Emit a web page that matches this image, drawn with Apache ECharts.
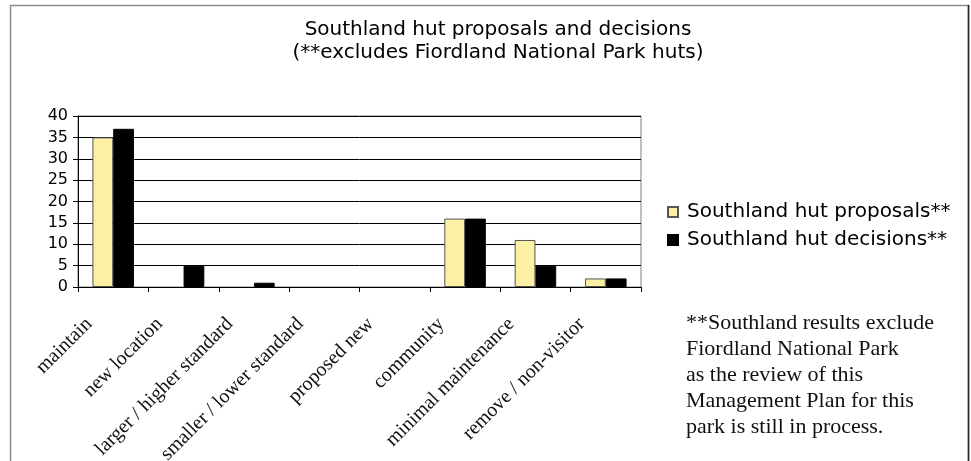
<!DOCTYPE html>
<html>
<head>
<meta charset="utf-8">
<script src="https://cdn.jsdelivr.net/npm/echarts@6/dist/echarts.min.js"></script>
<style>
  html, body { margin: 0; padding: 0; background: #ffffff; }
  #chart { width: 971px; height: 461px; }
</style>
</head>
<body>
<div id="chart"></div>
<script>
// Hut categories along the x axis
const categories = [
  'maintain',
  'new location',
  'larger / higher standard',
  'smaller / lower standard',
  'proposed new',
  'community',
  'minimal maintenance',
  'remove / non-visitor'
];

// Number of huts per category
const proposals = [35, 0, 0, 0, 0, 16, 11, 2];
const decisions = [37, 5, 1, 0, 0, 16, 5, 2];

const seriesNames = ['Southland hut proposals**', 'Southland hut decisions**'];

const titleLines = [
  'Southland hut proposals and decisions',
  '(**excludes Fiordland National Park huts)'
];

const noteLines = [
  '**Southland results exclude',
  'Fiordland National Park',
  'as the review of this',
  'Management Plan for this',
  'park is still in process.'
];

const sansFont = '"DejaVu Sans", Verdana, sans-serif';
const serifFont = '"Liberation Serif", "Times New Roman", serif';

// Empty categories get no bar at all (not even a flat outline)
const asBars = values => values.map(v => (v === 0 ? null : v));

const chart = echarts.init(document.getElementById('chart'), null, { renderer: 'canvas' });

chart.setOption({
  animation: false,
  backgroundColor: '#ffffff',
  title: {
    text: titleLines.join('\n'),
    left: 493,
    top: 13,
    textAlign: 'center',
    textStyle: {
      fontFamily: sansFont,
      fontSize: 20,
      fontWeight: 'normal',
      color: '#000000',
      lineHeight: 23
    }
  },
  legend: {
    orient: 'vertical',
    left: 662,
    top: 197,
    itemWidth: 10,
    itemHeight: 10,
    itemGap: 8,
    icon: 'rect',
    textStyle: { fontFamily: sansFont, fontSize: 20, color: '#000000', padding: [0, 0, 0, 4] },
    data: seriesNames
  },
  grid: {
    left: 78,
    right: 330,
    top: 116,
    bottom: 174,
    outerBoundsMode: 'none',
    containLabel: false,
    show: true,
    borderColor: '#808080',
    borderWidth: 1,
    backgroundColor: '#ffffff'
  },
  xAxis: {
    type: 'category',
    data: categories,
    axisLine: { lineStyle: { color: '#000000', width: 1 } },
    axisTick: { show: true, length: 5, lineStyle: { color: '#000000' } },
    axisLabel: {
      interval: 0,
      rotate: 45,
      margin: 10,
      padding: [0, 34, 0, 0],
      fontFamily: serifFont,
      fontSize: 20,
      color: '#111111'
    }
  },
  yAxis: {
    type: 'value',
    min: 0,
    max: 40,
    interval: 5,
    axisLine: { show: true, lineStyle: { color: '#000000', width: 1 } },
    axisTick: { show: true, length: 5, lineStyle: { color: '#000000' } },
    axisLabel: { fontFamily: sansFont, fontSize: 16, color: '#000000', margin: 10 },
    splitLine: { show: true, lineStyle: { color: '#000000', width: 1 } }
  },
  series: [
    {
      name: seriesNames[0],
      type: 'bar',
      data: asBars(proposals),
      barGap: '0%',
      barCategoryGap: '41%',
      itemStyle: { color: '#fcf0a4', borderColor: '#555555', borderWidth: 1 }
    },
    {
      name: seriesNames[1],
      type: 'bar',
      data: asBars(decisions),
      itemStyle: { color: '#000000', borderColor: '#000000', borderWidth: 1 }
    }
  ],
  graphic: [
    {
      type: 'rect',
      silent: true,
      shape: { x: 10.5, y: 5.5, width: 958, height: 470 },
      style: { fill: null, stroke: '#8c8c8c', lineWidth: 1.5 },
      z: -10
    },
    {
      type: 'line',
      silent: true,
      shape: { x1: 968.5, y1: 5, x2: 968.5, y2: 461 },
      style: { stroke: '#202020', lineWidth: 1.5 }
    },
    {
      type: 'text',
      silent: true,
      left: 686,
      top: 310,
      style: {
        text: noteLines.join('\n'),
        font: '22px ' + serifFont,
        lineHeight: 26,
        fill: '#111111'
      }
    }
  ]
});
</script>
</body>
</html>
